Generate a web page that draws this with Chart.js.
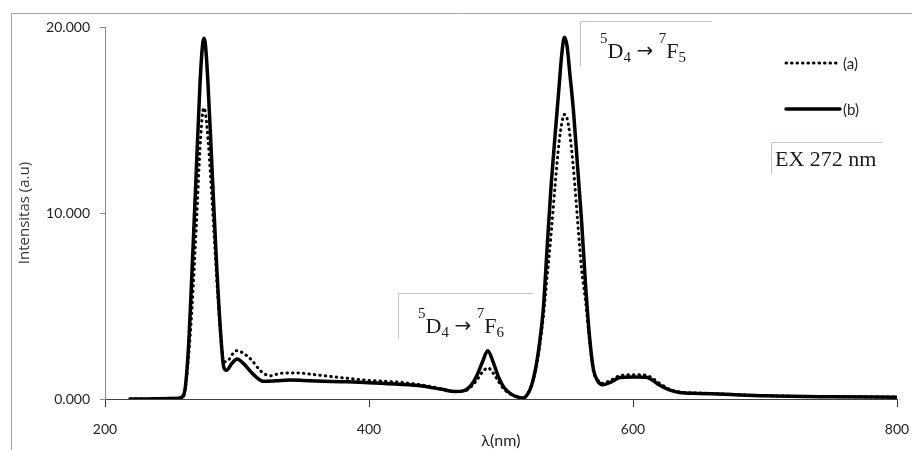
<!DOCTYPE html>
<html>
<head>
<meta charset="utf-8">
<script src="https://cdn.jsdelivr.net/npm/chart.js@4"></script>
<style>
  html, body { margin: 0; padding: 0; background: #fff; }
  #wrap { width: 912px; height: 450px; }
</style>
</head>
<body>
<div id="wrap"><canvas id="spectrum" width="912" height="450"></canvas></div>
<script>
// emission spectra, intensity in thousands (axis shows 20.000 = 20 x 1000)
const waveA = [219, 230, 245, 255, 258, 260, 263, 266, 269, 272, 274, 275, 276, 278, 281, 284, 287, 290, 293, 297, 300, 305, 311, 318, 325, 333, 345, 360, 375, 400, 423, 440, 455, 465, 472, 478, 482, 486, 490, 494, 498, 502, 508, 513, 517, 520, 523, 526, 529, 532, 535, 538, 541, 544, 546, 548, 550, 552, 555, 558, 561, 564, 567, 570, 573, 577, 583, 590, 600, 610, 615, 620, 627, 635, 650, 670, 700, 750, 800];
const intensA = [0, 0, 0.03, 0.04, 0.06, 0.25, 2.0, 5.0, 9.0, 13.5, 15.4, 15.65, 15.4, 14.0, 10.8, 7.2, 4.0, 2.0, 2.05, 2.45, 2.6, 2.45, 2.1, 1.5, 1.25, 1.38, 1.4, 1.3, 1.18, 1.0, 0.9, 0.75, 0.55, 0.4, 0.42, 0.7, 1.05, 1.45, 1.68, 1.4, 0.95, 0.55, 0.23, 0.09, 0.05, 0.25, 0.7, 1.5, 2.7, 4.4, 6.6, 8.9, 11.5, 13.8, 14.8, 15.3, 15.1, 14.3, 12.3, 9.6, 7.0, 5.3, 3.2, 1.5, 1.05, 0.85, 1.0, 1.25, 1.3, 1.28, 1.1, 0.85, 0.55, 0.38, 0.32, 0.26, 0.18, 0.13, 0.1];

const waveB = [219, 230, 240, 250, 257, 260, 263, 266, 269, 272, 274, 275, 276, 278, 281, 284, 287, 290, 292, 296, 300, 305, 310, 315, 320, 330, 340, 350, 360, 380, 400, 420, 440, 455, 465, 472, 478, 482, 486, 490, 494, 498, 502, 508, 513, 517, 520, 523, 526, 529, 532, 535, 538, 541, 544, 546, 548, 550, 552, 555, 558, 561, 564, 567, 570, 573, 577, 583, 590, 600, 610, 615, 620, 627, 635, 650, 670, 700, 750, 800];
const intensB = [0, 0, 0.02, 0.03, 0.06, 0.3, 2.5, 7.0, 12.0, 17.0, 19.1, 19.4, 19.1, 17.0, 12.5, 8.0, 4.2, 1.7, 1.55, 1.9, 2.15, 1.9, 1.5, 1.15, 0.95, 0.98, 1.02, 1.0, 0.97, 0.93, 0.88, 0.8, 0.7, 0.52, 0.4, 0.45, 0.8, 1.3, 2.0, 2.6, 2.0, 1.2, 0.65, 0.25, 0.1, 0.05, 0.25, 0.7, 1.55, 2.9, 4.8, 8.2, 11.5, 14.2, 16.8, 18.5, 19.45, 19.0, 17.6, 15.4, 12.5, 9.6, 6.2, 3.4, 1.6, 1.0, 0.76, 0.9, 1.15, 1.18, 1.17, 1.0, 0.75, 0.5, 0.35, 0.3, 0.25, 0.17, 0.12, 0.1];

const seriesLabels = ['(a)', '(b)'];
const xTicks = [200, 400, 600, 800];
const yTicks = [0, 10, 20];

const sans = 'Lato, "Open Sans", sans-serif';
const serif = '"Liberation Serif", "Times New Roman", serif';

function toPoints(xs, ys) {
    return xs.map((x, i) => ({ x: x, y: ys[i] }));
}

// draws e.g. 5D4 -> 7F5 with super/subscripts
function drawTerm(ctx, x, base, parts) {
    parts.forEach(p => {
        let font = '22px ' + serif, dy = 0;
        if (p.k === 'sup') { font = '15px ' + serif; dy = -15; }
        if (p.k === 'sub') { font = '15px ' + serif; dy = 4; }
        if (p.k === 'arrow') { font = '20px "DejaVu Sans", sans-serif'; dy = -1; }
        ctx.font = font;
        ctx.fillText(p.t, x, base + dy);
        x += ctx.measureText(p.t).width;
    });
}

const decor = {
    id: 'decor',
    beforeDraw(chart) {
        const ctx = chart.ctx;
        ctx.save();
        ctx.fillStyle = '#fff';
        ctx.fillRect(0, 0, chart.width, chart.height);
        // outer frame
        ctx.strokeStyle = '#a6a6a6';
        ctx.lineWidth = 1;
        ctx.beginPath();
        ctx.moveTo(11.5, chart.height);
        ctx.lineTo(11.5, 13.5);
        ctx.lineTo(chart.width, 13.5);
        ctx.stroke();
        ctx.restore();
    },
    afterDraw(chart) {
        const ctx = chart.ctx;
        ctx.save();
        // annotation boxes (top and left edges only)
        ctx.strokeStyle = '#bcc6d4';
        ctx.lineWidth = 1;
        [[580, 21, 712, 66], [398, 293, 533, 339], [771, 142, 882, 174]].forEach(b => {
            ctx.beginPath();
            ctx.moveTo(b[0] + 0.5, b[3]);
            ctx.lineTo(b[0] + 0.5, b[1] + 0.5);
            ctx.lineTo(b[2], b[1] + 0.5);
            ctx.stroke();
        });
        ctx.fillStyle = '#1a1a1a';
        ctx.textBaseline = 'alphabetic';
        ctx.textAlign = 'left';
        drawTerm(ctx, 600, 58, [{t:'5',k:'sup'},{t:'D',k:'n'},{t:'4',k:'sub'},{t:' ',k:'n'},{t:'\u2192',k:'arrow'},{t:' ',k:'n'},{t:'7',k:'sup'},{t:'F',k:'n'},{t:'5',k:'sub'}]);
        drawTerm(ctx, 418, 333, [{t:'5',k:'sup'},{t:'D',k:'n'},{t:'4',k:'sub'},{t:' ',k:'n'},{t:'\u2192',k:'arrow'},{t:' ',k:'n'},{t:'7',k:'sup'},{t:'F',k:'n'},{t:'6',k:'sub'}]);
        ctx.font = '22px ' + serif;
        ctx.fillText('EX 272 nm', 775, 166);

        // legend
        const ds = chart.data.datasets;
        const rows = [63, 109];
        ds.forEach((d, i) => {
            ctx.strokeStyle = d.borderColor;
            ctx.lineWidth = d.borderWidth;
            ctx.lineCap = d.borderCapStyle;
            ctx.setLineDash(d.borderDash || []);
            ctx.beginPath();
            ctx.moveTo(786, rows[i]);
            ctx.lineTo(840, rows[i]);
            ctx.stroke();
            ctx.setLineDash([]);
            ctx.fillStyle = '#222';
            ctx.font = '15px ' + sans;
            ctx.textBaseline = 'middle';
            ctx.fillText(d.label, 843, rows[i] + 1);
        });
        ctx.restore();
    }
};

const chart = new Chart(document.getElementById('spectrum'), {
    type: 'line',
    data: {
        datasets: [
            {
                label: seriesLabels[0],
                data: toPoints(waveA, intensA),
                borderColor: '#000',
                borderWidth: 3,
                borderDash: [0.5, 5],
                borderCapStyle: 'round',
                pointRadius: 0,
                cubicInterpolationMode: 'monotone',
                fill: false
            },
            {
                label: seriesLabels[1],
                data: toPoints(waveB, intensB),
                borderColor: '#000',
                borderWidth: 3.5,
                borderCapStyle: 'round',
                borderJoinStyle: 'round',
                pointRadius: 0,
                cubicInterpolationMode: 'monotone',
                fill: false
            }
        ]
    },
    options: {
        responsive: false,
        animation: false,
        layout: { padding: { left: 0, top: 27, right: 15, bottom: 0 } },
        plugins: {
            legend: { display: false },
            tooltip: { enabled: false }
        },
        scales: {
            x: {
                type: 'linear',
                min: 200,
                max: 800,
                afterFit: s => { s.height = 51; s.paddingLeft = 0; s.paddingRight = 0; },
                afterBuildTicks: s => { s.ticks = xTicks.map(v => ({ value: v })); },
                grid: { drawOnChartArea: false, drawTicks: true, tickLength: 8, color: '#404040' },
                border: { display: true, color: '#404040', width: 1 },
                ticks: { padding: 14, color: '#222', font: { family: sans, size: 14 } },
                title: {
                    display: true,
                    text: '\u03bb(nm)',
                    color: '#222',
                    font: { family: sans, size: 16 },
                    padding: { top: 0, bottom: 0 }
                }
            },
            y: {
                min: 0,
                max: 20,
                afterFit: s => { s.width = 105; s.paddingTop = 0; s.paddingBottom = 0; },
                afterBuildTicks: s => { s.ticks = yTicks.map(v => ({ value: v })); },
                grid: { drawOnChartArea: false, drawTicks: true, tickLength: 5, color: '#888' },
                border: { display: true, color: '#888', width: 1 },
                ticks: {
                    padding: 10,
                    color: '#222',
                    font: { family: sans, size: 14 },
                    callback: v => v.toFixed(3)
                },
                title: {
                    display: true,
                    text: 'Intensitas (a.u)',
                    color: '#333',
                    font: { family: '"Open Sans", sans-serif', size: 15 },
                    padding: { top: 16, bottom: 0 }
                }
            }
        }
    },
    plugins: [decor]
});
</script>
</body>
</html>
